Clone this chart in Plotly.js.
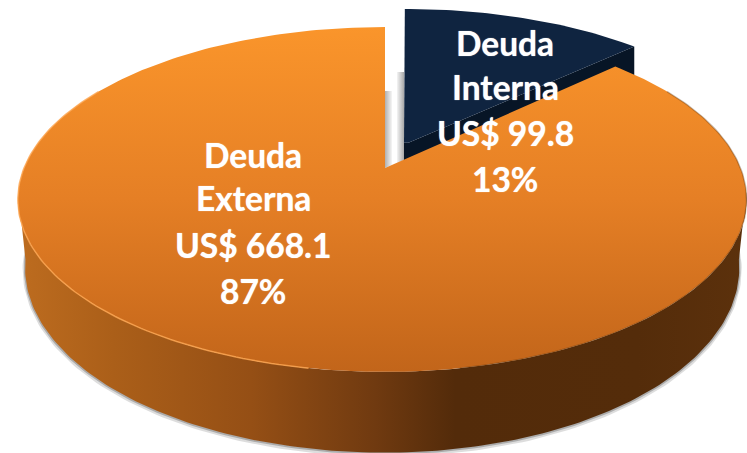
<!DOCTYPE html>
<html><head><meta charset="utf-8">
<script src="https://cdn.plot.ly/plotly-3.0.1.min.js"></script>
<style>html,body{margin:0;padding:0;background:#fff;overflow:hidden}#c{width:747px;height:453px}</style>
</head><body><div id="c"></div>
<script>
const categories = ["Deuda Interna", "Deuda Externa"];
const wrappedNames = [["Deuda", "Interna"], ["Deuda", "Externa"]];
const amounts = [99.8, 668.1];
const percents = ["13%", "87%"];

// perspective projection of the pie disk (u right, v far, z down) to page pixels
const W = 747, H = 453;
const AX = 385, AY = 168, RX_L = 361, RX_R = 355.5, RY = 166.7, K = 0.1826, DEPTH = 66, SHRINK = 0.98, EXPLODE = 0.17, NAVY_STRETCH = 1.017;
function project(u, v, z) {
  const w = 1 + K * v;
  let x = AX + (u < 0 ? RX_L : RX_R) * u / w, y = AY - RY * v / w;
  if (z) { x = 381 + (x - 381) * SHRINK; y += DEPTH / w; }
  return [x, y];
}
function arc(a0, a1, ox, oy, z) {
  const pts = [], n = Math.ceil(Math.abs(a1 - a0));
  for (let i = 0; i <= n; i++) {
    const t = (a0 + (a1 - a0) * i / n) * Math.PI / 180;
    pts.push(project(Math.sin(t) + ox, Math.cos(t) + oy, z));
  }
  return pts;
}
const poly = (pts, extra) => Object.assign({
  x: pts.map(p => p[0]), y: pts.map(p => p[1]), type: "scatter", mode: "lines",
  fill: "toself", line: {width: 0}, hoverinfo: "skip", showlegend: false
}, extra);
const stroke = (pts, color, width) => ({
  x: pts.map(p => p[0]), y: pts.map(p => p[1]), type: "scatter", mode: "lines",
  line: {color, width, shape: "linear"}, hoverinfo: "skip", showlegend: false
});

const total = amounts[0] + amounts[1];
const sweep = amounts[0] / total * 360;
const mid = sweep / 2 * Math.PI / 180;
const ox = EXPLODE * Math.sin(mid), oy = EXPLODE * Math.cos(mid);

// colour stops run from the bottom of the shape to the top
const TOP_ORANGE = {type: "vertical", colorscale: [[0, "#c2651a"], [0.5, "#e57f25"], [1, "#fa952b"]]};
const SIDE_ORANGE = {type: "horizontal", colorscale: [[0, "#bd6c1f"], [0.13, "#ab5f19"], [0.32, "#954f15"], [0.49, "#703a10"], [0.6, "#532b0a"], [0.85, "#542c0a"], [1, "#5c310c"]]};

const frontTop = arc(262, 98, 0, 0, false);
const frontBottom = arc(262, 98, 0, 0, true);
const outerBottom = arc(272, 88, 0, 0, true);

const navyLeftX = project(ox, 1 + oy, false)[0] - 0.8;
const stretch = p => [navyLeftX + (p[0] - navyLeftX) * NAVY_STRETCH, p[1]];
const navyApex = stretch(project(ox, oy, false));
const navyArc = arc(0, sweep, ox, oy, false).map(stretch);
const navyEnd = navyArc[navyArc.length - 1];
const navyEndLow = [navyEnd[0], navyEnd[1] + 40];
const navyApexLow = [navyApex[0], navyApex[1] + 40];
const navyLeftFoot = [navyLeftX, navyApex[1]];

const orangeApex = project(0, 0, false);
const orangeArc = arc(sweep, 360, 0, 0, false);

const traces = [
  // shadow beneath the base
  stroke(outerBottom.map(p => [p[0], p[1] + 1.5]), "rgba(120,120,120,0.25)", 5),
  stroke(outerBottom.map(p => [p[0], p[1] + 0.5]), "rgba(110,110,110,0.45)", 2.5),
  // soft shadow strips visible in the gap between the slices
  poly([[orangeApex[0], 91], [orangeApex[0] + 7, 91], [orangeApex[0] + 7, orangeApex[1] - 3], [orangeApex[0], orangeApex[1]]],
       {fillgradient: {type: "horizontal", colorscale: [[0, "#b0b0b0"], [1, "#f6f6f6"]]}}),
  poly([[navyLeftX - 7, 72], [navyLeftX, 72], [navyLeftX, 160], [navyLeftX - 7, 163]],
       {fillgradient: {type: "horizontal", colorscale: [[0, "#f4f4f4"], [1, "#a8a8a8"]]}}),
  // navy slice: dark wall, then top face
  poly([navyEnd, navyEndLow, navyApexLow, [navyLeftX, navyApexLow[1]], navyLeftFoot, navyApex], {fillcolor: "#071526"}),
  poly([navyLeftFoot].concat(navyArc, [navyApex]), {fillcolor: "#0f2440"}),
  // orange side wall
  poly(frontTop.concat(frontBottom.slice().reverse()), {fillgradient: SIDE_ORANGE}),
  // orange top
  poly([orangeApex].concat(orangeArc), {fillgradient: TOP_ORANGE}),
  // rim light and rim shadow
  stroke(arc(190, 300, 0, 0, false), "rgba(252,165,80,0.8)", 1.5),
  stroke(arc(60, 170, 0, 0, false), "rgba(90,50,12,0.35)", 1.5)
];

const POS = [[505, [43, 87, 133, 179]], [253, [155, 198, 245, 291]]];
const annotations = [];
categories.forEach((c, i) => {
  const lines = [...wrappedNames[i], "US$ " + amounts[i].toFixed(1), percents[i]];
  lines.forEach((t, j) => annotations.push({
    x: POS[i][0], y: POS[i][1][j], xref: "x", yref: "y", text: "<b>" + t + "</b>",
    showarrow: false, xanchor: "center", yanchor: "middle",
    font: {family: "Lato, 'Open Sans', sans-serif", size: 33.5, color: "#ffffff", shadow: "0 0 1px rgba(255,255,255,0.8)"}
  }));
});

Plotly.newPlot("c", traces, {
  width: W, height: H, margin: {l: 0, r: 0, t: 0, b: 0},
  paper_bgcolor: "#fff", plot_bgcolor: "#fff", showlegend: false,
  xaxis: {range: [0, W], visible: false, fixedrange: true},
  yaxis: {range: [H, 0], visible: false, fixedrange: true},
  annotations
}, {displayModeBar: false, staticPlot: true});
</script></body></html>
